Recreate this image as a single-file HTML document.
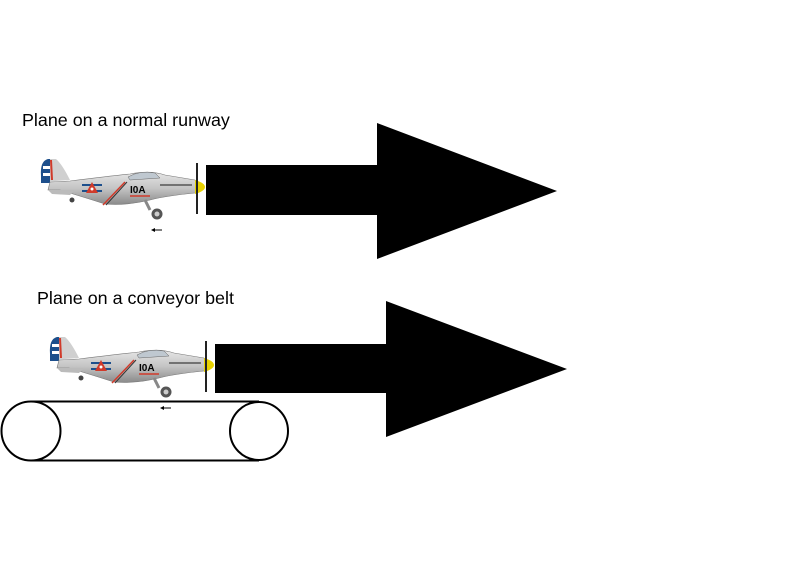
<!DOCTYPE html>
<html><head><style>
html,body{margin:0;padding:0;background:#fff;}
svg{display:block;}
text{font-family:"Liberation Sans",sans-serif;font-size:17.9px;fill:#000;}
</style></head><body>
<svg width="795" height="561" viewBox="0 0 795 561" xmlns="http://www.w3.org/2000/svg">
<defs>
<linearGradient id="fus" x1="0" y1="0" x2="0" y2="1">
<stop offset="0" stop-color="#e6e6e6"/><stop offset="0.5" stop-color="#c4c4c4"/><stop offset="1" stop-color="#8a8a8a"/>
</linearGradient>
<g id="plane">
<path d="M41,174 Q40,161 48,159 L56,159 Q62,164 70,180 L41,182 Z" fill="#d0d0d0"/>
<path d="M41,176 Q40,161 48,159 L50,159 L50,183 L41,183 Z" fill="#1d4f8c"/>
<rect x="43" y="166" width="7" height="3" fill="#fff"/>
<rect x="43" y="173" width="7" height="3" fill="#fff"/>
<path d="M50,160 L52,160 L53,180 L51,180 Z" fill="#d03a2a"/>
<path d="M50,182 L70,181 Q110,176 130,174 Q150,170 165,175 L195,180 L203,187 L195,193 Q165,196 150,200 Q125,206 105,204 Q80,196 60,190 L48,190 Z" fill="url(#fus)" stroke="#777" stroke-width="0.6"/>
<path d="M128,177 Q140,170 155,173 L160,178 L130,180 Z" fill="#bfc8d0" stroke="#666" stroke-width="0.5"/>
<path d="M48,190 L75,190 L70,195 L52,194 Z" fill="#bbb"/>
<rect x="82" y="184" width="20" height="2" fill="#1d4f8c"/>
<rect x="82" y="190" width="20" height="2" fill="#1d4f8c"/>
<path d="M92,182 L98,193 L86,193 Z" fill="#d03a2a"/>
<circle cx="92" cy="189" r="1.5" fill="#fff"/>
<path d="M103,205 L125,182" stroke="#d03a2a" stroke-width="1.5"/>
<path d="M106,205 L127,182" stroke="#333" stroke-width="1"/>
<text x="130" y="193" style="font-size:10px;font-weight:bold">I0A</text>
<path d="M130,196 L150,196" stroke="#d03a2a" stroke-width="1.5"/>
<path d="M160,185 L192,185" stroke="#555" stroke-width="1.5"/>
<path d="M195,180 Q205,183 205,187 Q205,191 195,194 Z" fill="#e8d200"/>
<path d="M196,163 L198,163 L198,214 L196,214 Z" fill="#222"/>
<path d="M145,200 L150,210" stroke="#888" stroke-width="3"/>
<circle cx="157" cy="214" r="5.5" fill="#555"/>
<circle cx="157" cy="214" r="2.5" fill="#ccc"/>
<circle cx="72" cy="200" r="2.5" fill="#444"/>
<path d="M154,230 L162,230" stroke="#000" stroke-width="1"/>
<path d="M151,230 L155,228 L155,232 Z" fill="#000"/>
</g>
</defs>

<text x="22" y="126">Plane on a normal runway</text>
<use href="#plane"/>
<path d="M206,165 L377,165 L377,123 L557,191 L377,259 L377,215 L206,215 Z" fill="#000"/>

<text x="37" y="304">Plane on a conveyor belt</text>
<use href="#plane" transform="translate(9,178)"/>
<path d="M215,344 L386,344 L386,301 L567,369 L386,437 L386,393 L215,393 Z" fill="#000"/>

<g fill="none" stroke="#000" stroke-width="2">
<circle cx="31" cy="431" r="29.5"/>
<circle cx="259" cy="431" r="29"/>
<line x1="31" y1="401.5" x2="259" y2="401.5"/>
<line x1="31" y1="460.5" x2="259" y2="460.5"/>
</g>
</svg>
</body></html>
